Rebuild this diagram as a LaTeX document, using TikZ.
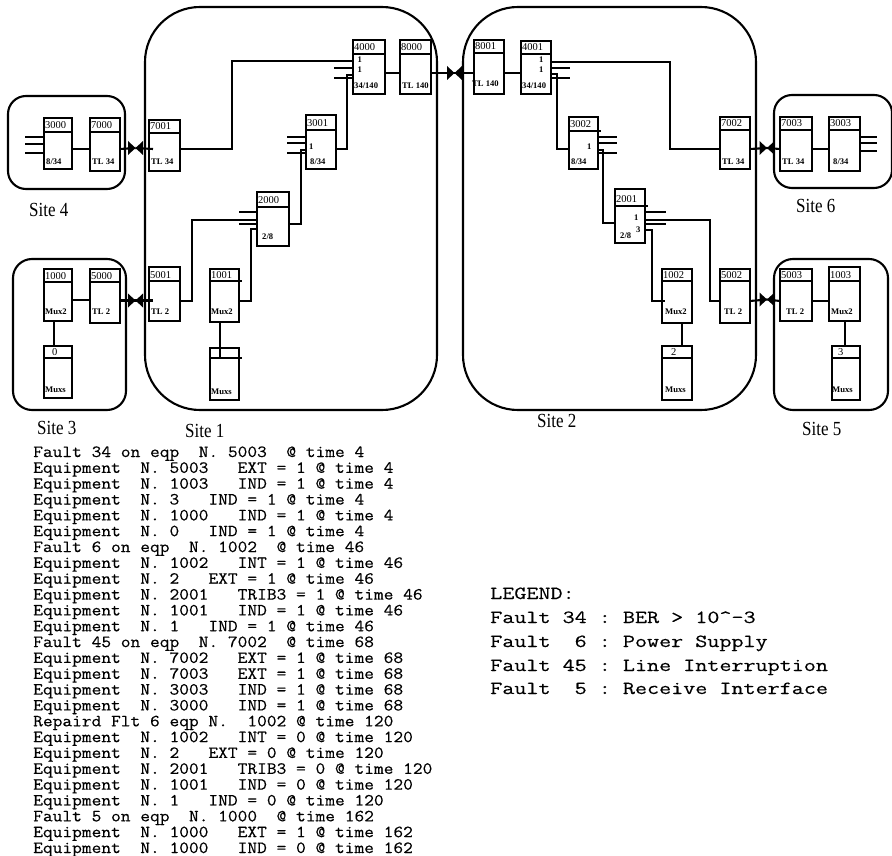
\documentclass[tikz,border=0pt]{standalone}
\usepackage{fontspec}
\usetikzlibrary{calc}
\setmainfont{Liberation Serif}
\newfontfamily\logfont[FakeBold=0.35]{Latin Modern Mono}
\tikzset{
  x=1pt,y=-1pt,
  site/.style={draw,line width=2.1pt,inner sep=0,outer sep=0},
  eqb/.style={draw,line width=2.4pt,inner sep=0,outer sep=0},
  eqline/.style={line width=2.2pt,line join=miter},
  thin wire/.style={line width=2.1pt},
  thick wire/.style={line width=2.8pt},
  hdrtext/.style={anchor=base west,inner sep=0,font=\fontsize{10.5}{12}\selectfont},
  bodytext/.style={anchor=base west,inner sep=0,font=\fontsize{8.6}{10}\selectfont\bfseries},
  sitetext/.style={anchor=base west,inner sep=0,font=\fontsize{20}{22}\selectfont,xscale=.85,transform shape},
  logtext/.style={anchor=base west,inner sep=0,font=\fontsize{17}{18}\selectfont\logfont\frenchspacing,xscale=1.112,transform shape},
  legtext/.style={anchor=base west,inner sep=0,font=\fontsize{18.5}{20}\selectfont\logfont\frenchspacing,xscale=1.266,transform shape},
}
% name x1 y1 x2 y2 headerY label
\newcommand{\eqbox}[7]{%
  \node[eqb,minimum width={(#4-#2)*1pt},minimum height={(#5-#3)*1pt}] (#1) at ({(#2+#4)/2},{(#3+#5)/2}) {};
  \draw[eqline] (#1.west |- 0,#6) -- (#1.east |- 0,#6);
  \node[hdrtext] (#1t) at ({#2+1},{#6-3}) {#7};
}
\newcommand{\blabel}[4]{\node[bodytext] (#1b) at (#2,#3) {#4};}
\newcommand{\sitebox}[6]{%
  \node[site,rounded corners=#6pt,minimum width={(#4-#2)*1pt},minimum height={(#5-#3)*1pt}] (#1) at ({(#2+#4)/2},{(#3+#5)/2}) {};
}
% name, x centre, y centre
\newcommand{\linktie}[3]{%
  \coordinate (#1) at (#2,#3);
  \fill (#1) -- ++(-7.5,-7) -- ++(0,14) -- cycle;
  \fill (#1) -- ++(7.5,-7) -- ++(0,14) -- cycle;
}
\begin{document}
\begin{tikzpicture}
\useasboundingbox (0,0) rectangle (892,856);
% sites
\sitebox{s4}{8}{96}{125}{189}{18}
\sitebox{s3}{13}{259}{126}{410}{19}
\sitebox{s1}{145}{7}{437}{410}{55}
\sitebox{s2}{463}{7}{756}{410}{55}
\sitebox{s6}{774}{95}{892}{188}{18}
\sitebox{s5}{774}{259}{888}{410}{19}
% equipment
\eqbox{b3000}{44}{118}{72}{169}{132}{3000}
\eqbox{b7000}{90}{118}{120}{171}{132}{7000}
\eqbox{b7001}{149}{120}{180}{171}{133}{7001}
\eqbox{b1000}{44}{269}{72}{321}{282}{1000}
\eqbox{b5000}{90}{269}{120}{323}{282}{5000}
\eqbox{m0}{44}{346}{72}{398}{358}{\hspace{7pt}0}
\eqbox{b5001}{149}{267}{180}{321}{281}{5001}
\eqbox{b1001}{210}{269}{239}{322}{281}{1001}
\eqbox{m1}{210}{348}{239}{400}{358}{}
\eqbox{b2000}{257}{192}{289}{246}{207}{2000}
\eqbox{b3001}{306}{115}{336}{169}{130}{3001}
\eqbox{b4000}{353}{40}{385}{94}{54}{4000}
\eqbox{b8000}{400}{40}{431}{94}{54}{8000}
\eqbox{b8001}{474}{40}{504}{94}{53}{8001}
\eqbox{b4001}{521}{41}{551}{94}{54}{4001}
\eqbox{b3002}{569}{117}{598}{169}{131}{3002}
\eqbox{b2001}{615}{189}{645}{243}{206}{2001}
\eqbox{b1002}{662}{269}{692}{323}{281}{1002}
\eqbox{m2}{662}{346}{692}{400}{358}{\hspace{8pt}2}
\eqbox{b5002}{720}{269}{750}{323}{281}{5002}
\eqbox{b7002}{720}{117}{750}{169}{130}{7002}
\eqbox{b7003}{780}{117}{812}{171}{130}{7003}
\eqbox{b3003}{829}{117}{860}{171}{130}{3003}
\eqbox{b5003}{780}{269}{812}{321}{281}{5003}
\eqbox{b1003}{829}{267}{860}{321}{281}{1003}
\eqbox{m3}{832}{346}{860}{400}{358}{\hspace{5pt}3}
% body labels
\blabel{b3000}{46}{165}{8/34}
\blabel{b7000}{92}{165}{TL 34}
\blabel{b7001}{151}{165}{TL 34}
\blabel{b1000}{45}{314}{Mux2}
\blabel{b5000}{92}{314}{TL 2}
\blabel{m0}{45}{392}{Muxs}
\blabel{b5001}{151}{314}{TL 2}
\blabel{b1001}{211}{314}{Mux2}
\blabel{m1}{211}{394}{Muxs}
\blabel{b2000}{262}{240}{2/8}
\blabel{b3001}{310}{165}{8/34}
\blabel{b4000}{354}{89}{34/140}
\blabel{b8000}{402}{89}{TL 140}
\blabel{b8001}{472}{87}{TL 140}
\blabel{b4001}{522}{89}{34/140}
\blabel{b3002}{571}{165}{8/34}
\blabel{b2001}{620}{238}{2/8}
\blabel{b1002}{665}{314}{Mux2}
\blabel{m2}{665}{392}{Muxs}
\blabel{b5002}{724}{314}{TL 2}
\blabel{b7002}{722}{165}{TL 34}
\blabel{b7003}{782}{165}{TL 34}
\blabel{b3003}{833}{165}{8/34}
\blabel{b5003}{786}{314}{TL 2}
\blabel{b1003}{831}{314}{Mux2}
\blabel{m3}{832}{392}{Muxs}
% small port digits
\node[bodytext] (d1) at (357.5,63) {1};
\node[bodytext] (d2) at (357.5,73) {1};
\node[bodytext] (d3) at (539,63) {1};
\node[bodytext] (d4) at (539,73) {1};
\node[bodytext] (d5) at (309,150) {1};
\node[bodytext] (d6) at (587,150) {1};
\node[bodytext] (d7) at (634,220) {1};
\node[bodytext] (d8) at (636,232) {3};
% header extensions
\draw[eqline] (b1001.east |- 0,281) -- ++(3,0);
\draw[eqline] (m1.east |- 0,358) -- ++(3,0);
\draw[eqline] (b3002.east |- 0,131) -- ++(3,0);
\draw[eqline] (b2001.east |- 0,206) -- ++(3,0);
% ticks
\foreach \yy in {137,144,153} \draw[thin wire] (b3000.west |- 0,\yy) -- ++(-19,0);
\foreach \yy in {137,143,151} \draw[thin wire] (b3003.east |- 0,\yy) -- ++(17,0);
\foreach \yy in {137,143,153} \draw[thin wire] (b3001.west |- 0,\yy) -- ++(-19,0);
\foreach \yy in {137,143,153} \draw[thin wire] (b3002.east |- 0,\yy) -- ++(19,0);
\foreach \yy in {68,78} \draw[thin wire] (b4000.west |- 0,\yy) -- ++(-19,0);
\foreach \yy in {68,78} \draw[thin wire] (b4001.east |- 0,\yy) -- ++(19,0);
\foreach \yy in {212,224} \draw[thin wire] (b2000.west |- 0,\yy) -- ++(-18,0);
\foreach \yy in {212,224} \draw[thin wire] (b2001.east |- 0,\yy) -- ++(21,0);
% link ties
\linktie{t1}{135.5}{148}
\linktie{t2}{135.5}{300.5}
\linktie{t3}{454.5}{73}
\linktie{t4}{767}{148}
\linktie{t5}{767}{299.5}
% connectors
\draw[thin wire] (b3000.east |- 0,149) -- (b7000.west |- 0,149);
\draw[thin wire] (b7000.east |- 0,149) -- (t1);
\draw[thin wire] (t1) -- ($(b7001.west |- 0,149)+(4,0)$);
\draw[thin wire] (b1000.east |- 0,300) -- (b5000.west |- 0,300);
\draw[thin wire] (b5000.east |- 0,300.5) -- (t2);
\draw[thin wire] (t2) -- ($(b5001.west |- 0,300.5)+(4,0)$);
\draw[thick wire] (b1000.south -| 54,0) -- (m0.north -| 54,0);
\draw[thick wire] (b1001.south -| 220,0) -- (m1.north -| 220,0) -- (220,358);
\draw[thin wire] (b7001.east |- 0,149) -- (232,149) -- (232,61) -- (b4000.west |- 0,61);
\draw[thin wire] (b3001.east |- 0,149) -- (347,149) -- (347,75) -- (b4000.west |- 0,75);
\draw[thin wire] (b2000.east |- 0,224) -- (301,224) -- (301,150) -- (b3001.west |- 0,150);
\draw[thin wire] (b5001.east |- 0,301) -- (192,301) -- (192,220) -- (b2000.west |- 0,220);
\draw[thin wire] (b1001.east |- 0,301) -- (251,301) -- (251,229) -- (b2000.west |- 0,229);
\draw[thin wire] (b4000.east |- 0,73) -- (b8000.west |- 0,73);
\draw[thin wire] (b8000.east |- 0,73) -- (t3);
\draw[thin wire] (t3) -- (b8001.west |- 0,73);
\draw[thin wire] (b8001.east |- 0,73) -- (b4001.west |- 0,73);
\draw[thin wire] (b4001.east |- 0,62) -- (670,62) -- (670,149) -- (b7002.west |- 0,149);
\draw[thin wire] (b4001.east |- 0,74) -- (557,74) -- (557,149) -- (b3002.west |- 0,149);
\draw[thin wire] (b3002.east |- 0,150) -- (603,150) -- (603,223) -- (b2001.west |- 0,223);
\draw[thin wire] (b2001.east |- 0,220) -- (710,220) -- (710,301) -- (b5002.west |- 0,301);
\draw[thin wire] (b2001.east |- 0,230) -- (652,230) -- (652,301) -- ($(b1002.west |- 0,301)+(3,0)$);
\draw[thick wire] (b1002.south -| 682,0) -- (m2.north -| 682,0);
\draw[thin wire] (b5002.east |- 0,301) -- (t5);
\draw[thin wire] (t5) -- (b5003.west |- 0,301);
\draw[thin wire] (b5003.east |- 0,301) -- (b1003.west |- 0,301);
\draw[thick wire] (b1003.south -| 845,0) -- (m3.north -| 845,0);
\draw[thin wire] (b7002.east |- 0,149) -- (t4);
\draw[thin wire] (t4) -- (b7003.west |- 0,149);
\draw[thin wire] (b7003.east |- 0,149) -- (b3003.west |- 0,149);
% site labels
\node[sitetext] (n4) at (29,216) {Site 4};
\node[sitetext] (n3) at (37,434) {Site 3};
\node[sitetext] (n1) at (185,437) {Site 1};
\node[sitetext] (n2) at (537,427) {Site 2};
\node[sitetext] (n6) at (796,212) {Site 6};
\node[sitetext] (n5) at (802,435) {Site 5};
% log
\foreach \t [count=\i] in {
Fault~34~on~eqp~~N.~5003~~@~time~4,
Equipment~~N.~5003~~~EXT~=~1~@~time~4,
Equipment~~N.~1003~~~IND~=~1~@~time~4,
Equipment~~N.~3~~~IND~=~1~@~time~4,
Equipment~~N.~1000~~~IND~=~1~@~time~4,
Equipment~~N.~0~~~IND~=~1~@~time~4,
Fault~6~on~eqp~~N.~1002~~@~time~46,
Equipment~~N.~1002~~~INT~=~1~@~time~46,
Equipment~~N.~2~~~EXT~=~1~@~time~46,
Equipment~~N.~2001~~~TRIB3~=~1~@~time~46,
Equipment~~N.~1001~~~IND~=~1~@~time~46,
Equipment~~N.~1~~~IND~=~1~@~time~46,
Fault~45~on~eqp~~N.~7002~~@~time~68,
Equipment~~N.~7002~~~EXT~=~1~@~time~68,
Equipment~~N.~7003~~~EXT~=~1~@~time~68,
Equipment~~N.~3003~~~IND~=~1~@~time~68,
Equipment~~N.~3000~~~IND~=~1~@~time~68,
Repaird~Flt~6~eqp~N.~~1002~@~time~120,
Equipment~~N.~1002~~~INT~=~0~@~time~120,
Equipment~~N.~2~~~EXT~=~0~@~time~120,
Equipment~~N.~2001~~~TRIB3~=~0~@~time~120,
Equipment~~N.~1001~~~IND~=~0~@~time~120,
Equipment~~N.~1~~~IND~=~0~@~time~120,
Fault~5~on~eqp~~N.~1000~~@~time~162,
Equipment~~N.~1000~~~EXT~=~1~@~time~162,
Equipment~~N.~1000~~~IND~=~0~@~time~162}
{ \node[logtext] (log\i) at (33,{457+(\i-1)*15.84}) {\t}; }
% legend
\node[legtext] (leg0) at (490,599) {LEGEND:};
\node[legtext] (leg1) at (490,623) {Fault~34~:~BER~>~10\textasciicircum-3};
\node[legtext] (leg2) at (490,647) {Fault~~6~:~Power~Supply};
\node[legtext] (leg3) at (490,671) {Fault~45~:~Line~Interruption};
\node[legtext] (leg4) at (490,694) {Fault~~5~:~Receive~Interface};
\end{tikzpicture}
\end{document}
